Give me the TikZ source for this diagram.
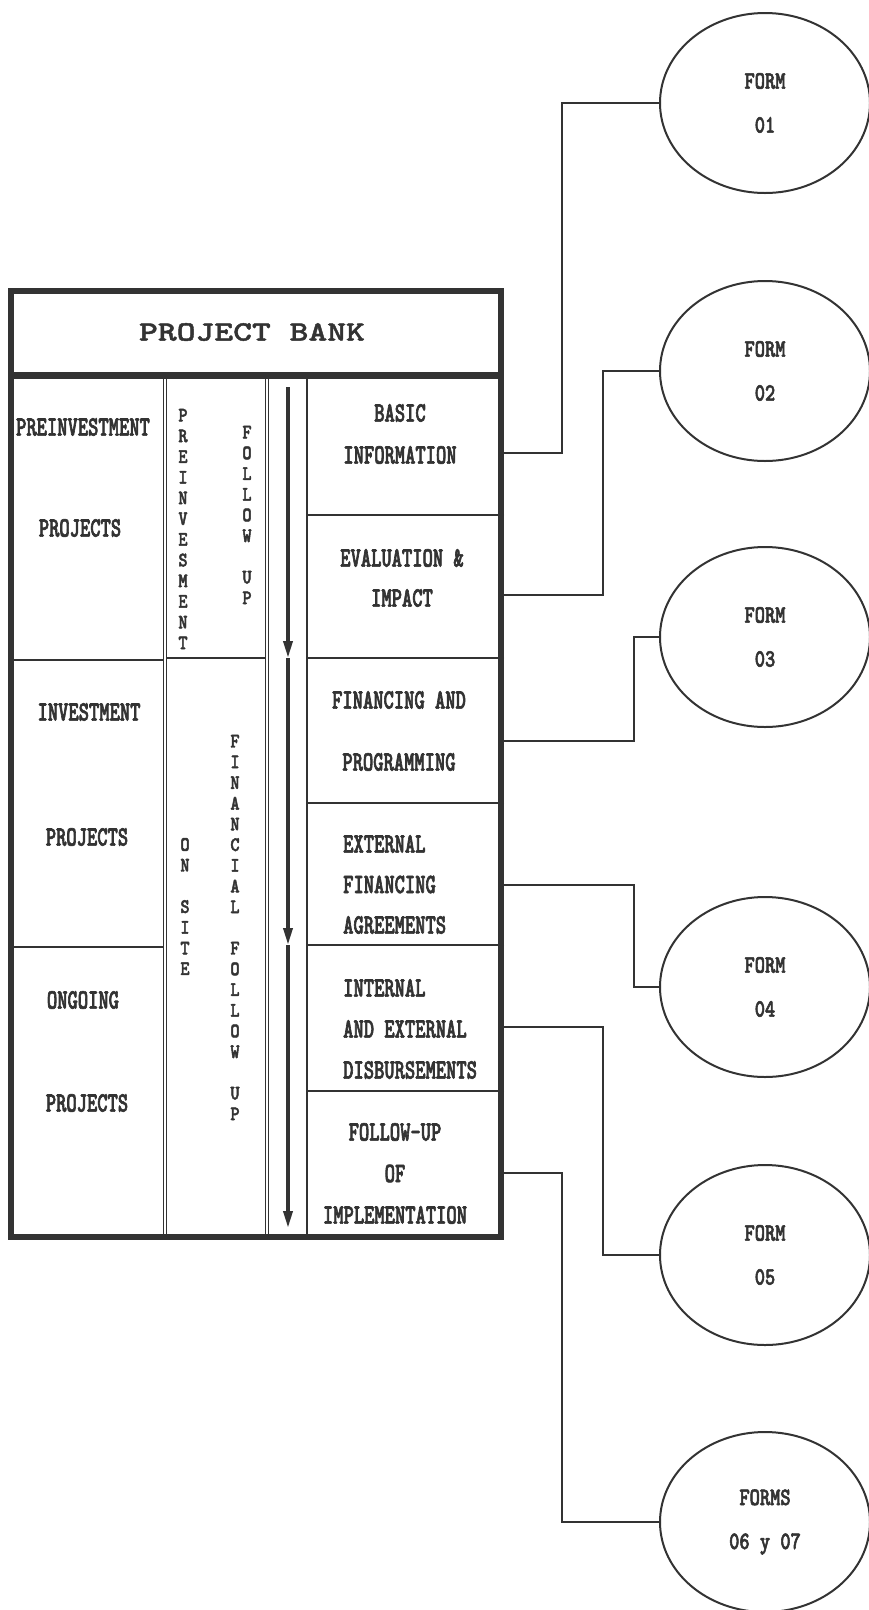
\documentclass[tikz,border=0pt]{standalone}
\usepackage{fontspec}
\usepackage{tikz}
\usetikzlibrary{shapes.geometric,arrows.meta,positioning}

\newfontfamily\titlefont[FakeStretch=1.28,FakeBold=1.5]{lmmonolt10-bold.otf}
\newfontfamily\cellfont[FakeStretch=0.70,FakeBold=2.2]{lmmonolt10-bold.otf}
\newfontfamily\vertfont[FakeStretch=0.85,FakeBold=2.2]{lmmonolt10-bold.otf}
\newfontfamily\formfont[FakeStretch=0.78,FakeBold=2.2]{lmmonolt10-bold.otf}
\definecolor{ink}{gray}{0.2}

\tikzset{
  frameline/.style={draw=ink, line width=6pt},
  sepline/.style={draw=ink, line width=1.6pt},
  linkline/.style={draw=ink, line width=1.6pt},
  flowarrow/.style={draw=ink, line width=3.5pt, -{Triangle[length=17pt,width=9pt]}},
  celltext/.style={text=ink, inner sep=0pt, align=center,
    font=\cellfont\fontsize{28}{#1}\selectfont},
  celltext/.default=41,
  vtext/.style={text=ink, inner sep=0pt, align=center,
    font=\vertfont\fontsize{20.5}{20.7}\selectfont},
  formbox/.style={draw=ink, line width=2pt, shape=ellipse, minimum width=210pt,
    minimum height=180pt, inner sep=0pt, align=center, text=ink,
    font=\formfont\fontsize{25}{44}\selectfont}
}

\begin{document}
\begin{tikzpicture}[x=1pt,y=-1pt]
  \useasboundingbox (0,0) rectangle (869,1610);

  % project bank table
  \draw[frameline] (11,291) rectangle (501,1237);
  \draw[frameline, line width=7pt] (11,375) -- (501,375);
  \node[celltext, font=\titlefont\fontsize{28}{28}\selectfont] (title) at (252,332) {PROJECT BANK};

  \foreach \x in {163.5,166.5,265.5,268.5,307}
    \draw[sepline] (\x,379) -- (\x,1234);
  \draw[sepline] (11,660) -- (163.5,660);
  \draw[sepline] (11,947) -- (163.5,947);
  \draw[sepline] (166.5,658) -- (265.5,658);
  \foreach \y in {515,658,803,945,1091}{
    \draw[sepline] (307,\y) -- (501,\y);
    \fill[ink] (501,\y) circle (3pt);}

  % kinds of projects
  \node[celltext] (preinv) at (83,427) {PREINVESTMENT};
  \node[celltext] (preproj) at (80,528) {PROJECTS};
  \node[celltext] (inv) at (89,712) {INVESTMENT};
  \node[celltext] (invproj) at (87,837) {PROJECTS};
  \node[celltext] (ongo) at (83,1000) {ONGOING};
  \node[celltext] (ongoproj) at (87,1103) {PROJECTS};

  % follow up columns
  \node[vtext] (preinvv) at (183,529) {P\\R\\E\\I\\N\\V\\E\\S\\M\\E\\N\\T};
  \node[vtext] (prefollow) at (247,515) {F\\O\\L\\L\\O\\W\\\mbox{}\\U\\P};
  \node[vtext] (onsite) at (185,906.5) {O\\N\\\mbox{}\\S\\I\\T\\E};
  \node[vtext] (finfollow) at (235,927.5) {F\\I\\N\\A\\N\\C\\I\\A\\L\\\mbox{}\\F\\O\\L\\L\\O\\W\\\mbox{}\\U\\P};

  \coordinate (a0) at (288,387);
  \coordinate (a1) at (288,658);
  \coordinate (a2) at (288,945);
  \coordinate (a3) at (288,1228);
  \draw[flowarrow] (a0) -- (a1);
  \draw[flowarrow] (a1) -- (a2);
  \draw[flowarrow] (a2) -- (a3);

  % information blocks
  \node[celltext=42] (basic) at (400,434) {BASIC\\INFORMATION};
  \node[celltext=40] (evaluation) at (402,578) {EVALUATION \&\\IMPACT};
  \node[celltext=62] (financing) at (399,731) {FINANCING AND\\PROGRAMMING};
  \node[celltext=40.5, align=left, anchor=west] (external) at (343,884.5) {EXTERNAL\\FINANCING\\AGREEMENTS};
  \node[celltext=41, align=left, anchor=west] (internal) at (343,1029) {INTERNAL\\AND EXTERNAL\\DISBURSEMENTS};
  \node[celltext=41.5] (followup) at (395,1173.5) {FOLLOW-UP\\OF\\IMPLEMENTATION};

  % forms
  \node[formbox] (f01) at (765,103) {FORM\\01};
  \node[formbox] (f02) at (765,371) {FORM\\02};
  \node[formbox] (f03) at (765,637) {FORM\\03};
  \node[formbox] (f04) at (765,987) {FORM\\04};
  \node[formbox] (f05) at (765,1255) {FORM\\05};
  \node[formbox] (f67) at (765,1522) {FORMS\\06 y 07};

  \foreach \y/\dx/\f in {453/61/f01, 595/102/f02, 741/133/f03, 885/133/f04, 1027/102/f05, 1173/61/f67}{
    \coordinate (c\f) at (501,\y);
    \fill[ink] (c\f) circle (3pt);
    \draw[linkline] (c\f) -- ++(\dx,0) |- (\f.west);}
\end{tikzpicture}
\end{document}
